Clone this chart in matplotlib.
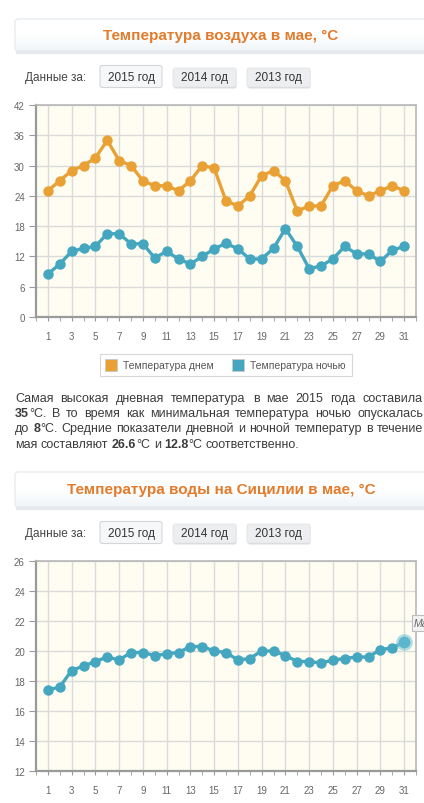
import numpy as np
import matplotlib
matplotlib.use("Agg")
import matplotlib.pyplot as plt
from matplotlib.patches import FancyBboxPatch, Rectangle

plt.rcParams['font.family'] = ['Liberation Sans', 'DejaVu Sans']

# ---- data ----
days = list(range(1, 32))
air_day = [25, 27, 29, 30, 31.5, 35, 31, 30, 27, 26, 26, 25, 27, 30, 29.5, 23,
           22, 24, 28, 29, 27, 21, 22, 22, 26, 27, 25, 24, 25, 26, 25]
air_night = [8.5, 10.5, 13, 13.6, 14, 16.5, 16.5, 14.5, 14.5, 11.7, 13, 11.5, 10.5,
             12, 13.5, 14.6, 13.5, 11.5, 11.5, 13.6, 17.5, 14, 9.6, 10.1, 11.5, 14,
             12.5, 12.5, 11, 13.2, 14]
water = [17.4, 17.6, 18.7, 19.0, 19.3, 19.6, 19.4, 19.9, 19.9, 19.7, 19.8, 19.9,
         20.3, 20.3, 20.0, 19.9, 19.4, 19.5, 20.0, 20.0, 19.7, 19.3, 19.3, 19.2,
         19.4, 19.5, 19.6, 19.6, 20.1, 20.2, 20.6]

title_air = "Температура воздуха в мае, °С"
title_water = "Температура воды на Сицилии в мае, °С"
years = ["2015 год", "2014 год", "2013 год"]
legend_labels = ["Температура днем", "Температура ночью"]

ORANGE = "#e9a135"
BLUE = "#44a7bf"
TITLE = "#e27b2c"
TXT = "#3c3c3c"

W, H = 424, 804
fig = plt.figure(figsize=(W / 100, H / 100), dpi=100)
fig.patch.set_facecolor("white")


def add_chart(top, bottom, ylim, ystep):
    ax = fig.add_axes([36 / W, 1 - bottom / H, 380 / W, (bottom - top) / H])
    ax.set_facecolor("#fffdf2")
    ax.set_xlim(0, 32)
    ax.set_ylim(*ylim)
    ax.set_xticks(range(1, 32, 2))
    ax.set_xticks(range(0, 33), minor=True)
    ax.set_yticks(np.arange(ylim[0], ylim[1] + 0.1, ystep))
    ax.grid(True, which="major", color="#dadada", lw=1)
    ax.set_axisbelow(True)
    for s in ["left", "bottom"]:
        ax.spines[s].set_color("#9a9a9a")
        ax.spines[s].set_linewidth(1.6)
    for s in ["top", "right"]:
        ax.spines[s].set_color("#b8b8b8")
        ax.spines[s].set_linewidth(1.2)
    ax.tick_params(axis="x", which="major", length=3, pad=7, color="#9a9a9a",
                   labelsize=7, labelcolor="#666666")
    ax.tick_params(axis="x", which="minor", length=3, color="#9a9a9a")
    ax.tick_params(axis="y", length=5, pad=3, color="#9a9a9a",
                   labelsize=7, labelcolor="#666666")
    return ax


# ---- air temperature chart ----
ax1 = add_chart(106, 318, (0, 42), 6)
ax1.plot(days, air_day, color=ORANGE, lw=2.4, marker="o", ms=6.5,
         mfc=ORANGE, mec=ORANGE, zorder=3)
ax1.plot(days, air_night, color=BLUE, lw=2.4, marker="o", ms=6.5,
         mfc=BLUE, mec=BLUE, zorder=3)

# ---- water temperature chart ----
ax2 = add_chart(562, 772, (12, 26), 2)
ax2.plot(days, water, color=BLUE, lw=2.4, marker="o", ms=6.5,
         mfc=BLUE, mec=BLUE, zorder=3)
# hovered last point
ax2.plot(days[-1:], water[-1:], marker="o", ms=12, mfc="#7cc6d8", mec="none",
         alpha=0.6, zorder=4)
ax2.plot(days[-1:], water[-1:], marker="o", ms=8.5, mfc="#5db7cc", mec="none", zorder=5)

# ---- overlay in pixel coordinates ----
ov = fig.add_axes([0, 0, 1, 1], zorder=10)
ov.set_xlim(0, W)
ov.set_ylim(H, 0)
ov.axis("off")
ov.patch.set_alpha(0)

grad_cmap = matplotlib.colors.LinearSegmentedColormap.from_list(
    "g", ["#ffffff", "#ffffff", "#f1f5f8"])


def title_box(y0, y1, text):
    grad = np.linspace(0, 1, 50).reshape(-1, 1)
    ov.add_patch(Rectangle((16, y1 - 1), 420, 3, color="#e6eaee", zorder=1))
    im = ov.imshow(grad, extent=(15, 440, y1, y0), cmap=grad_cmap,
                   aspect="auto", zorder=2)
    box = FancyBboxPatch((15, y0), 425, y1 - y0, boxstyle="round,pad=0,rounding_size=3",
                         fc="none", ec="#e3e8ec", lw=0.8, zorder=3)
    ov.add_patch(box)
    im.set_clip_path(box)
    ov.text(221, (y0 + y1) / 2, text, color=TITLE, fontsize=11, fontweight="bold",
            ha="center", va="center", zorder=4)


def year_buttons(yc):
    ov.text(25, yc, "Данные за:", color="#444444", fontsize=8.5, ha="left", va="center")
    xs = [(100, 162), (173, 236), (247, 310)]
    for i, (lab, (a, b)) in enumerate(zip(years, xs)):
        if i == 0:
            ov.add_patch(FancyBboxPatch((a, yc - 11.5), b - a, 22,
                                        boxstyle="round,pad=0,rounding_size=2.5",
                                        fc="#f6f7f8", ec="#d3d6d9", lw=0.8))
        else:
            ov.add_patch(FancyBboxPatch((a + 0.5, yc - 8), b - a, 19.5,
                                        boxstyle="round,pad=0,rounding_size=2.5",
                                        fc="#d7dadd", ec="none"))
            ov.add_patch(FancyBboxPatch((a, yc - 9), b - a, 19,
                                        boxstyle="round,pad=0,rounding_size=2.5",
                                        fc="#eceef0", ec="#e2e4e6", lw=0.6))
        ov.text((a + b) / 2, yc, lab, color="#333333", fontsize=8.5,
                ha="center", va="center")


title_box(20, 52, title_air)
year_buttons(78)
title_box(473, 508, title_water)
year_buttons(534)

# legend of the air chart
ov.add_patch(Rectangle((100, 355), 252, 22, fc="white", ec="#d8d8d8", lw=0.8))
ov.add_patch(Rectangle((105, 360), 12, 12, fc=ORANGE, ec="#c9c9c9", lw=0.6))
ov.text(123, 366.5, legend_labels[0], color="#555555", fontsize=7.5, va="center")
ov.add_patch(Rectangle((232, 360), 12, 12, fc=BLUE, ec="#c9c9c9", lw=0.6))
ov.text(250, 366.5, legend_labels[1], color="#555555", fontsize=7.5, va="center")

# tooltip cut at the right edge of the water chart
ov.add_patch(Rectangle((412, 616), 20, 16, fc="#f2f2f2", ec="#bdbdbd", lw=0.8))
ov.text(414, 624.5, "Ма", color="#666666", fontsize=7.5, va="center", style="italic")

# ---- paragraph (justified) ----
para = [
    [[("Самая", 0)], [("высокая", 0)], [("дневная", 0)], [("температура", 0)], [("в", 0)],
     [("мае", 0)], [("2015", 0)], [("года", 0)], [("составила", 0)]],
    [[("35", 1), ("°С.", 0)], [("В", 0)], [("то", 0)], [("время", 0)], [("как", 0)],
     [("минимальная", 0)], [("температура", 0)], [("ночью", 0)], [("опускалась", 0)]],
    [[("до", 0)], [("8", 1), ("°С.", 0)], [("Средние", 0)], [("показатели", 0)],
     [("дневной", 0)], [("и", 0)], [("ночной", 0)], [("температур", 0)], [("в", 0)],
     [("течение", 0)]],
    [[("мая", 0)], [("составляют", 0)], [("26.6", 1), ("°С", 0)], [("и", 0)],
     [("12.8", 1), ("°С", 0)], [("соответственно.", 0)]],
]
baselines = [402, 417, 432.5, 448]
renderer = fig.canvas.get_renderer()


def seg_width(s, bold):
    t = ov.text(0, 0, s, fontsize=9, fontweight="bold" if bold else "normal")
    w = t.get_window_extent(renderer).width
    t.remove()
    return w


space = seg_width("x x", 0) - seg_width("xx", 0)
x0, x1 = 15, 423
for li, (words, yb) in enumerate(zip(para, baselines)):
    widths = [[seg_width(s, b) for s, b in w] for w in words]
    total = sum(sum(w) for w in widths)
    gap = (x1 - x0 - total) / (len(words) - 1) if li < 3 else space
    x = x0
    for w, ws in zip(words, widths):
        for (s, b), sw in zip(w, ws):
            ov.text(x, yb, s, fontsize=9, color=TXT, va="baseline",
                    fontweight="bold" if b else "normal")
            x += sw
        x += gap

fig.savefig("out.png", dpi=100, facecolor="white")
